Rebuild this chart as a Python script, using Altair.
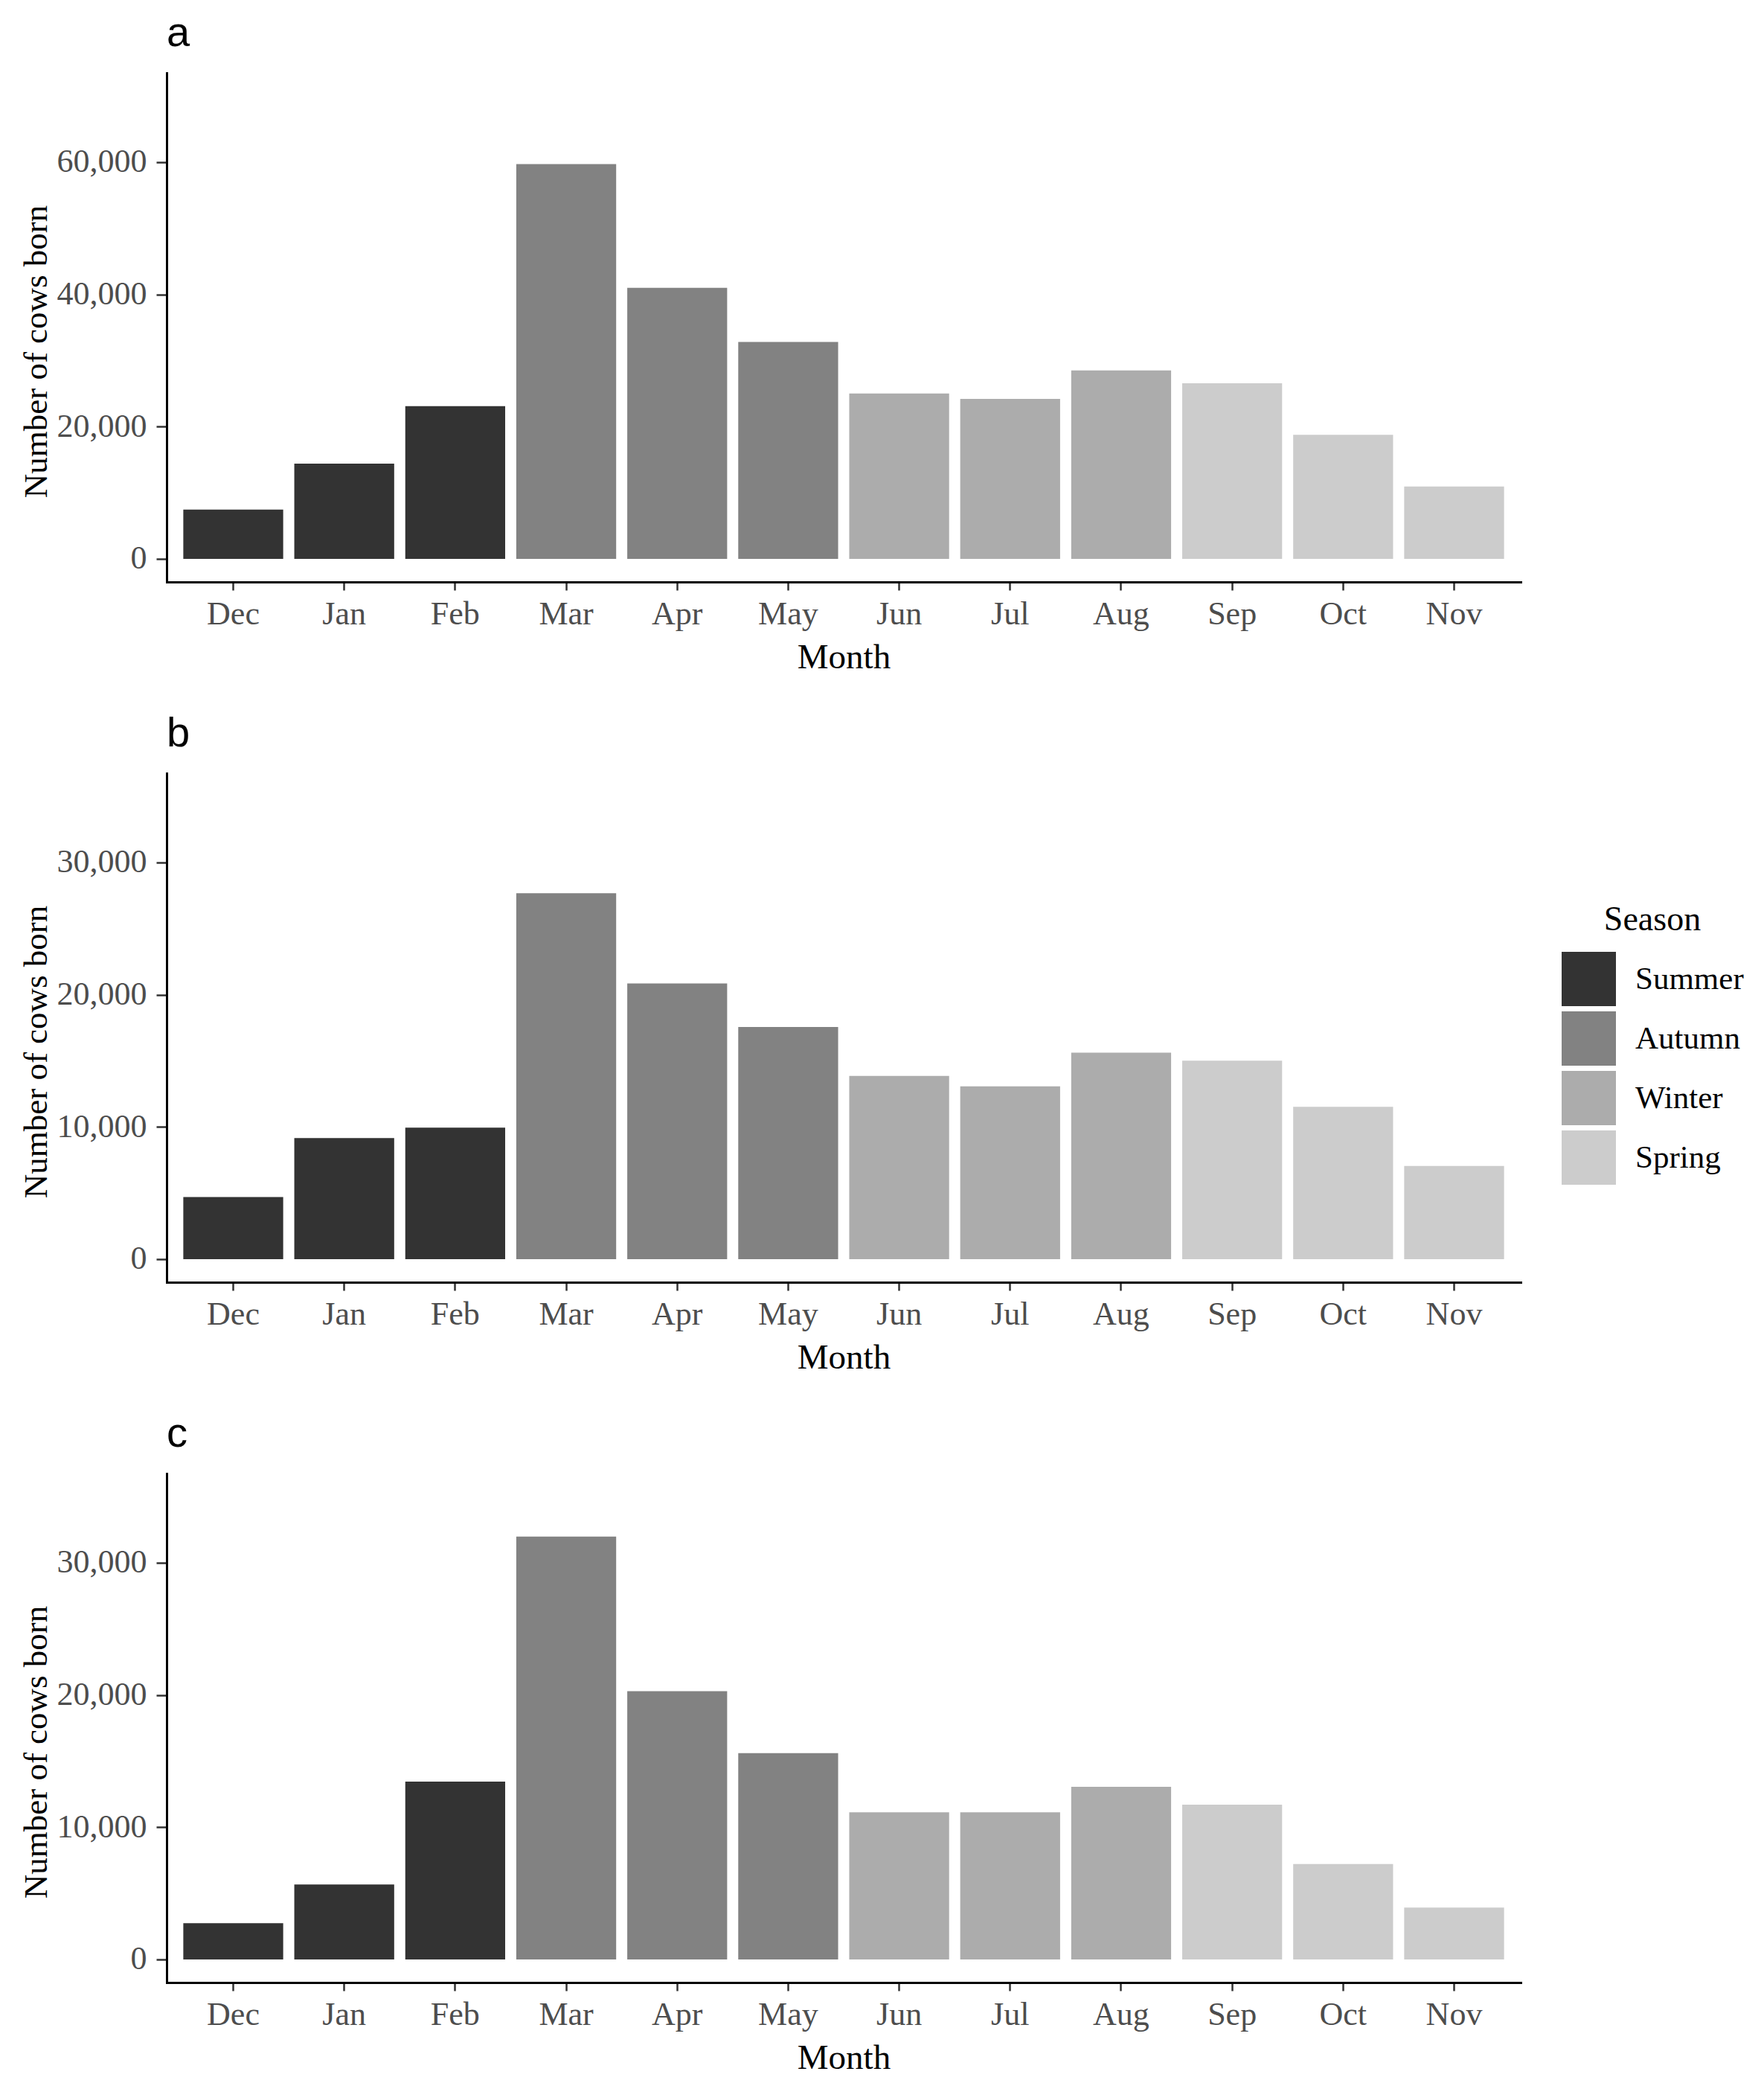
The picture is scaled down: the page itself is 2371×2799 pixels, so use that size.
import altair as alt
import pandas as pd

months = ["Dec", "Jan", "Feb", "Mar", "Apr", "May", "Jun", "Jul", "Aug", "Sep", "Oct", "Nov"]
seasons = ["Summer"] * 3 + ["Autumn"] * 3 + ["Winter"] * 3 + ["Spring"] * 3
season_order = ["Summer", "Autumn", "Winter", "Spring"]
season_colors = ["#333333", "#828282", "#ACACAC", "#CCCCCC"]

counts_a = [7460, 14400, 23100, 59700, 41000, 32800, 25000, 24200, 28500, 26550, 18750, 10950]
counts_b = [4700, 9150, 9950, 27680, 20850, 17550, 13850, 13070, 15610, 15010, 11520, 7040]
counts_c = [2740, 5670, 13450, 31980, 20280, 15600, 11120, 11120, 13060, 11700, 7220, 3920]

panel_labels = ["a", "b", "c"]
domain_a = [-3500, 73500]
domain_bc = [-1750, 36750]
ticks_a = [0, 20000, 40000, 60000]
ticks_bc = [0, 10000, 20000, 30000]

W, H = 1820, 684
SERIF = "Liberation Serif"


def panel(counts, label, domain, ticks, show_legend):
    df = pd.DataFrame({"Month": months, "Season": seasons, "Count": counts})
    if show_legend:
        legend = alt.Legend(
            title="Season",
            orient="none",
            legendX=1875,
            legendY=175,
            padding=0,
            symbolType="square",
            symbolSize=5329,
            symbolStrokeWidth=0,
            symbolOpacity=1,
            titleFont=SERIF,
            titleFontSize=46,
            titleFontWeight="normal",
            titleColor="black",
            titleAnchor="middle",
            titleAlign="center",
            titlePadding=19,
            labelFont=SERIF,
            labelFontSize=43,
            labelColor="black",
            labelOffset=26,
            rowPadding=7,
        )
    else:
        legend = None
    return (
        alt.Chart(
            df,
            title=alt.Title(
                label,
                anchor="start",
                frame="group",
                font="Liberation Sans",
                fontSize=56,
                fontWeight="normal",
                baseline="alphabetic",
                offset=-20,
                color="black",
            ),
        )
        .mark_bar()
        .encode(
            x=alt.X(
                "Month:N",
                sort=months,
                scale=alt.Scale(paddingInner=0.1, paddingOuter=0.15),
                axis=alt.Axis(
                    title="Month",
                    labelAngle=0,
                    tickSize=11,
                    labelPadding=10,
                    titlePadding=13,
                ),
            ),
            y=alt.Y(
                "Count:Q",
                stack=None,
                scale=alt.Scale(domain=domain, nice=False, zero=False),
                axis=alt.Axis(
                    title="Number of cows born",
                    values=ticks,
                    format=",d",
                    tickSize=14,
                    labelPadding=13,
                    titleX=-162,
                    titleY=H / 2 + 32,
                    titleBaseline="alphabetic",
                    titleAngle=270,
                    titleFontSize=45,
                ),
            ),
            y2=alt.datum(0),
            color=alt.Color(
                "Season:N",
                sort=season_order,
                scale=alt.Scale(domain=season_order, range=season_colors),
                legend=legend,
            ),
        )
        .properties(width=W, height=H)
    )


chart = (
    alt.vconcat(
        panel(counts_a, panel_labels[0], domain_a, ticks_a, False),
        panel(counts_b, panel_labels[1], domain_bc, ticks_bc, True),
        panel(counts_c, panel_labels[2], domain_bc, ticks_bc, False),
        spacing=52,
    )
    .resolve_legend(color="independent")
    .properties(padding={"left": 18, "top": 9, "right": 5, "bottom": 5})
    .configure_view(stroke=None)
    .configure_axis(
        grid=False,
        domainColor="black",
        domainWidth=3,
        domainCap="square",
        tickColor="#333333",
        tickWidth=2.5,
        labelFont=SERIF,
        labelFontSize=44,
        labelColor="#4D4D4D",
        titleFont=SERIF,
        titleFontSize=47,
        titleFontWeight="normal",
        titleColor="black",
    )
)

chart.save("out.html", embed_options={"renderer": "svg", "actions": False})
